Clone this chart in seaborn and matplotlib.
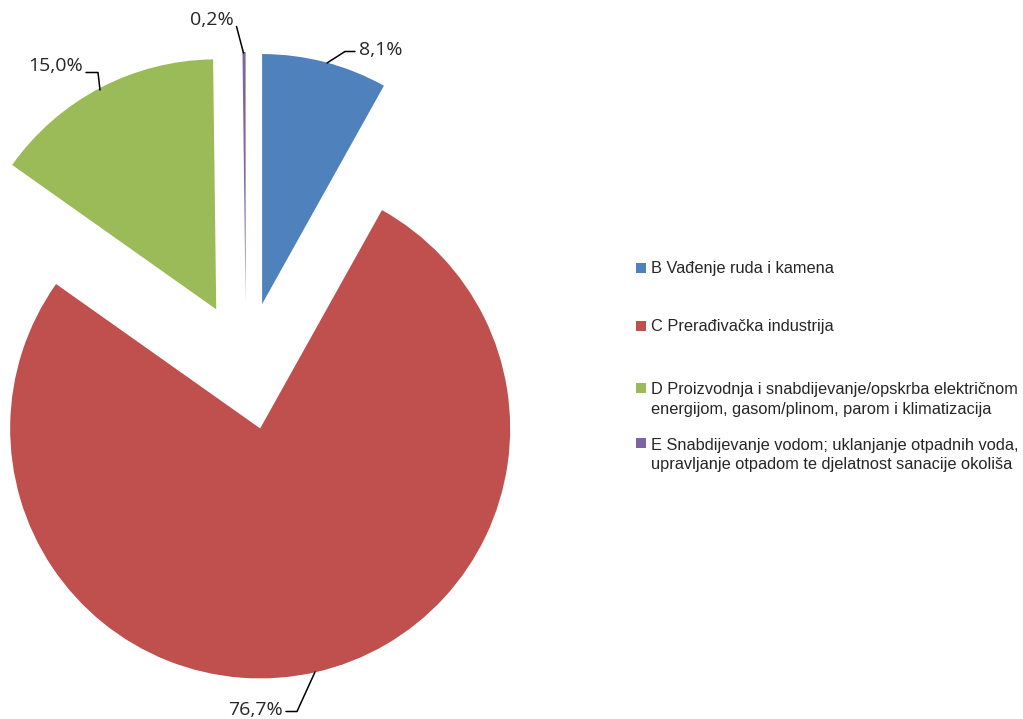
import matplotlib
matplotlib.use("Agg")
import matplotlib.pyplot as plt
import matplotlib.patches as mpatches
import seaborn as sns

categories = [
    "B Vađenje ruda i kamena",
    "C Prerađivačka industrija",
    "D Proizvodnja i snabdijevanje/opskrba električnom\nenergijom, gasom/plinom, parom i klimatizacija",
    "E Snabdijevanje vodom; uklanjanje otpadnih voda,\nupravljanje otpadom te djelatnost sanacije okoliša",
]
shares = [8.1, 76.7, 15.0, 0.2]
colors = ["#4F81BD", "#C0504D", "#9BBB59", "#8064A2"]

sns.set_theme(style="white")
palette = sns.color_palette(colors)

W, H = 1023, 719
fig = plt.figure(figsize=(W / 100, H / 100), dpi=100)
ax = fig.add_axes([0, 0, 1, 1])

cx, cy = 246, H - 366
ax.pie(shares, colors=palette, startangle=90, counterclock=False,
       explode=[64] * len(shares), radius=250, center=(cx, cy),
       wedgeprops=dict(linewidth=0))
ax.set_xlim(0, W)
ax.set_ylim(0, H)
ax.set_aspect("equal")
ax.axis("off")

def fmt(v):
    return f"{v:.1f}".replace(".", ",") + "%"

label_font = dict(family="Open Sans", size=14, color="#262626")
# (leader line points in pixels, text anchor, ha)
label_specs = [
    ([(327, 63), (345, 51.5), (355, 51.5)], (359, 50), "left"),
    ([(315, 672), (297, 711.5), (286, 711.5)], (283, 710), "right"),
    ([(100, 90), (98, 72.5), (86, 72.5)], (83, 66), "right"),
    ([(243.5, 53), (236.5, 26.5)], (234, 20), "right"),
]
for v, (pts, (tx, ty), ha) in zip(shares, label_specs):
    xs = [p[0] for p in pts]
    ys = [H - p[1] for p in pts]
    ax.plot(xs, ys, color="black", lw=1.1)
    ax.text(tx, H - ty, fmt(v), ha=ha, va="center", **label_font)

legend_font = dict(family="Liberation Sans", size=11.8, color="#262626")
legend_marker_y = [268, 326, 388, 443]
legend_text_y = [269, 327, 399.5, 455]
for name, col, my, ty in zip(categories, palette, legend_marker_y, legend_text_y):
    ax.add_patch(mpatches.Rectangle((636, H - my - 5), 10, 10, color=col, lw=0))
    ax.text(651, H - ty, name, ha="left", va="center",
            linespacing=1.4, **legend_font)

fig.savefig("out.png", dpi=100)
